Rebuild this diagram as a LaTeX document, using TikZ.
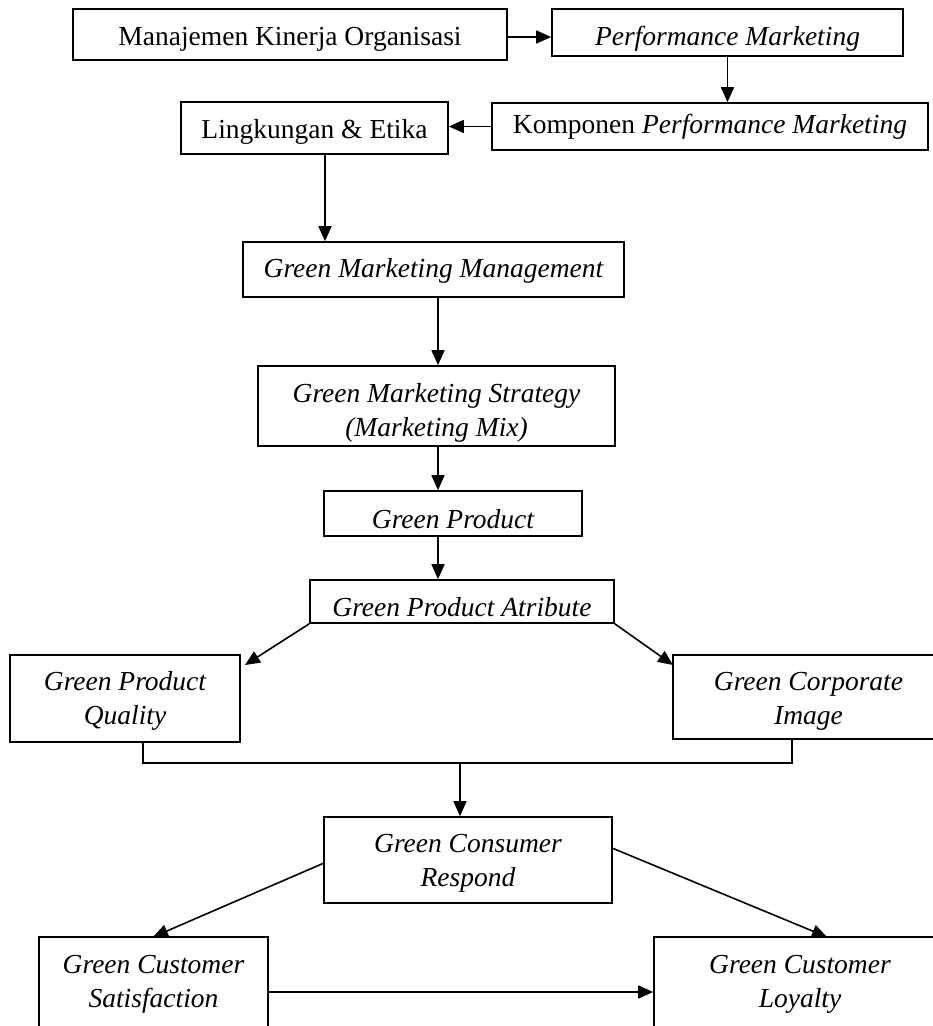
\documentclass[tikz,border=0pt]{standalone}
\usepackage{fontspec}
\setmainfont{Liberation Serif}
\usetikzlibrary{arrows.meta,calc}
\newcommand\mainsize{\fontsize{27.5bp}{34bp}\selectfont}
\tikzset{
  box/.style={draw, line width=1.6bp, inner sep=0pt, align=center, font=\mainsize, text depth=0bp},
  ibox/.style={box, font=\mainsize\itshape},
  conn/.style={line width=1.6bp},
  arr/.style={conn, -{Triangle[length=15bp,width=13bp]}}
}
\begin{document}
\begin{tikzpicture}[x=1bp,y=-1bp]
\clip (0,0) rectangle (933,1026);
% boxes
\node[box, minimum width=434bp, minimum height=51bp, text height=21bp] (mko) at (290,34.5) {Manajemen Kinerja Organisasi};
\node[ibox, minimum width=351bp, minimum height=47bp, text height=25bp] (pm) at (727.5,32.5) {Performance Marketing};
\node[box, minimum width=436bp, minimum height=47bp, text height=13bp] (kpm) at (710,126.5) {Komponen \textit{Performance Marketing}};
\node[box, minimum width=267bp, minimum height=52bp, text height=20bp] (le) at (314.5,128) {Lingkungan \& Etika};
\node[ibox, minimum width=381bp, minimum height=55bp, text height=16bp] (gmm) at (433.5,269.5) {Green Marketing Management};
\node[ibox, minimum width=357bp, minimum height=80bp, text height=60bp] (gms) at (436.5,406) {Green Marketing Strategy\\(Marketing Mix)};
\node[ibox, minimum width=258bp, minimum height=45bp, text height=29bp] (gp) at (453,513.5) {Green Product};
\node[ibox, minimum width=304bp, minimum height=43bp, text height=29bp] (gpa) at (462,601.5) {Green Product Atribute};
\node[ibox, minimum width=230bp, minimum height=87bp, text height=51bp] (gpq) at (125,698.5) {Green Product\\Quality};
\node[ibox, minimum width=271bp, minimum height=84bp, text height=54bp] (gci) at (808.5,697) {Green Corporate\\Image};
\node[ibox, minimum width=288bp, minimum height=86bp, text height=52bp] (gcr) at (468,860) {Green Consumer\\Respond};
\node[ibox, minimum width=229bp, minimum height=103bp, text height=37bp] (gcs) at (153.5,988.5) {Green Customer\\Satisfaction};
\node[ibox, minimum width=292bp, minimum height=103bp, text height=37bp] (gcl) at (800,988.5) {Green Customer\\Loyalty};
% helper coordinates
\coordinate (spine) at (438,0);
\coordinate (gpqtip) at (245,665);
\coordinate (gcitip) at (673,665);
\coordinate (jl) at (143,763);
\coordinate (jm) at (460,763);
\coordinate (jr) at (792,763);
\coordinate (gcrl) at (324,863);
\coordinate (gcrr) at (612,848);
\coordinate (gcstip) at (153,937);
\coordinate (gcltip) at (827,937);
\coordinate (hy) at (0,992);
% connectors
\draw[arr] ([yshift=-2.5bp]mko.east) -- ([yshift=-2.5bp]mko.east -| pm.west);
\draw[arr] (pm.south) -- (pm.south |- kpm.north);
\draw[arr] (kpm.west) -- (kpm.west -| le.east);
\draw[arr] ([xshift=10.5bp]le.south) -- ([xshift=10.5bp]le.south |- gmm.north);
\draw[arr] (gmm.south -| spine) -- (gms.north -| spine);
\draw[arr] (gms.south -| spine) -- (gp.north -| spine);
\draw[arr] (gp.south -| spine) -- (gpa.north -| spine);
\draw[arr] (gpa.south west) -- (gpqtip);
\draw[arr] (gpa.south east) -- (gcitip);
\draw[conn] (gpq.south -| jl) -- (jl) -- (jr) -- (gci.south -| jr);
\draw[arr] (jm) -- (gcr.north -| jm);
\draw[arr] (gcrl) -- (gcstip);
\draw[arr] (gcrr) -- (gcltip);
\draw[arr] (gcs.east |- hy) -- (gcl.west |- hy);
\end{tikzpicture}
\end{document}
